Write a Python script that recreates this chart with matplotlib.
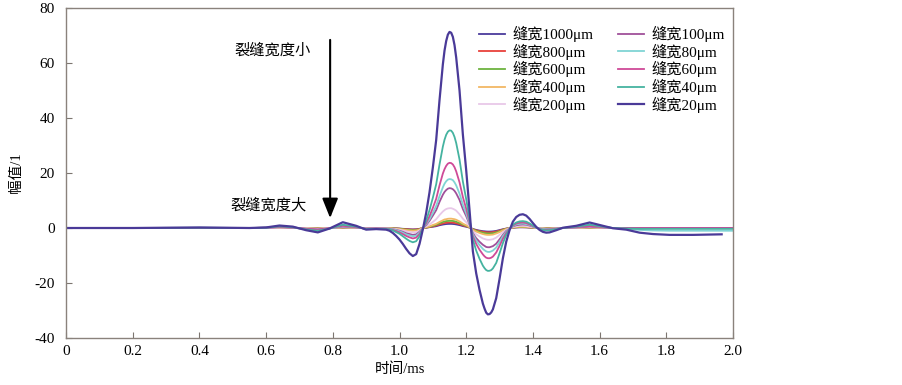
import numpy as np
import matplotlib
import matplotlib.pyplot as plt

matplotlib.use("Agg")

plt.rcParams["font.family"] = ["Liberation Serif", "Noto Sans CJK SC"]
plt.rcParams["axes.unicode_minus"] = False

nan = np.nan

# 时间轴 (ms)：脉冲附近取密一些
t = [0, 0.2, 0.4, 0.55, 0.6, 0.64, 0.68, 0.72, 0.755, 0.79, 0.83, 0.87, 0.9, 0.93, 0.96,
     0.97, 0.98, 0.99, 1.00, 1.01, 1.02, 1.03, 1.04, 1.05, 1.06,
     1.07, 1.08, 1.09, 1.10, 1.11, 1.12, 1.13, 1.135, 1.14, 1.145, 1.15, 1.155, 1.16, 1.165,
     1.17, 1.18, 1.19, 1.20, 1.21,
     1.22, 1.23, 1.24, 1.25, 1.255, 1.26, 1.265, 1.27, 1.275, 1.28, 1.29, 1.30, 1.31, 1.32, 1.33,
     1.34, 1.35, 1.36, 1.37, 1.38, 1.39, 1.40, 1.41, 1.42, 1.43, 1.44, 1.45,
     1.47, 1.49, 1.53, 1.57, 1.61, 1.64, 1.68, 1.72, 1.76, 1.81, 1.88, 1.966, 2.0]

w20 = [0, 0, 0.2, 0, 0.2, 0.9, 0.5, -0.8, -1.6, -0.2, 2.1, 0.8, -0.6, -0.4, -0.6,
       -1.0, -1.8, -2.9, -4.2, -5.8, -7.6, -9.2, -10.2, -9.5, -5.8,
       -0.5, 5.5, 13.0, 22.0, 32.0, 46.5, 59.5, 64.5, 68.0, 70.3, 71.3, 71.0, 69.5, 66.5,
       62.0, 50.0, 34.0, 21.0, 6.5,
       -8.5, -16.5, -22.5, -27.5, -29.3, -30.8, -31.4, -31.3, -30.7, -29.6, -25.5, -18.5, -11.0, -5.0, -0.8,
       2.3, 4.0, 4.8, 5.0, 4.5, 3.3, 1.8, 0.4, -0.7, -1.4, -1.7, -1.6,
       -0.8, 0.1, 0.8, 2.0, 0.8, -0.1, -0.6, -1.7, -2.2, -2.5, -2.5, -2.3, nan]

w40 = [0, 0, 0.1, 0, 0.1, 0.6, 0.3, -0.5, -1.0, -0.2, 1.2, 0.5, -0.4, -0.3, -0.4,
       -0.5, -0.9, -1.5, -2.1, -3.0, -3.9, -4.7, -5.2, -4.8, -3.0,
       -0.2, 2.7, 6.5, 11.0, 15.9, 23.1, 29.6, 32.1, 33.9, 35.0, 35.5, 35.4, 34.6, 33.1,
       30.9, 24.9, 16.9, 10.5, 3.2,
       -4.2, -8.2, -11.2, -13.7, -14.6, -15.3, -15.6, -15.55, -15.3, -14.7, -12.7, -9.2, -5.5, -2.5, -0.4,
       1.2, 2.0, 2.4, 2.5, 2.3, 1.7, 0.9, 0.2, -0.4, -0.7, -0.9, -0.8,
       -0.4, 0.0, 0.5, 1.2, 0.5, 0.0, -0.2, -0.3, -0.3, -0.3, -0.3, -0.3, -0.3]

w60 = [0, 0, 0, 0, 0.1, 0.4, 0.2, -0.3, -0.7, -0.1, 0.8, 0.3, -0.3, -0.2, -0.3,
       -0.4, -0.7, -1.1, -1.6, -2.2, -2.9, -3.4, -3.8, -3.5, -2.2,
       -0.1, 1.8, 4.3, 7.3, 10.6, 15.5, 19.8, 21.4, 22.6, 23.4, 23.7, 23.6, 23.1, 22.1,
       20.6, 16.6, 11.3, 7.0, 2.2,
       -3.0, -5.8, -7.9, -9.6, -10.3, -10.8, -11.0, -11.0, -10.8, -10.4, -8.9, -6.5, -3.9, -1.8, -0.3,
       0.9, 1.6, 1.9, 2.0, 1.8, 1.3, 0.7, 0.2, -0.3, -0.6, -0.7, -0.6,
       -0.3, 0.0, 0.3, 0.7, 0.3, 0.0, -0.1, -0.1, -0.1, -0.1, -0.1, -0.1, -0.1]

w80 = [0, 0, 0, 0, 0.1, 0.5, 0.2, -0.5, -1.0, -0.2, 0.7, 0.3, -0.3, -0.2, -0.3,
       -0.3, -0.5, -0.8, -1.2, -1.7, -2.3, -2.7, -3.0, -2.8, -1.7,
       -0.1, 1.4, 3.2, 5.5, 8.0, 11.6, 14.8, 16.1, 17.0, 17.6, 17.8, 17.7, 17.4, 16.6,
       15.5, 12.5, 8.5, 5.3, 1.6,
       -2.3, -4.6, -6.2, -7.6, -8.1, -8.5, -8.7, -8.7, -8.5, -8.2, -7.1, -5.1, -3.0, -1.4, -0.2,
       0.7, 1.3, 1.5, 1.6, 1.4, 1.1, 0.6, 0.1, -0.2, -0.4, -0.5, -0.5,
       -0.3, 0.0, 0.3, 0.8, 0.3, 0.0, -0.3, -0.7, -0.9, -1.0, -1.0, -1.0, -1.0]

w100 = [0, 0, 0, 0, 0.1, 0.3, 0.1, -0.3, -0.5, -0.1, 0.5, 0.2, -0.2, -0.1, -0.2,
        -0.25, -0.45, -0.7, -1.0, -1.4, -1.9, -2.2, -2.5, -2.3, -1.4,
        -0.1, 1.1, 2.6, 4.5, 6.5, 9.5, 12.1, 13.1, 13.8, 14.3, 14.5, 14.4, 14.1, 13.5,
        12.6, 10.2, 6.9, 4.3, 1.3,
        -1.9, -3.7, -5.0, -6.1, -6.5, -6.9, -7.0, -7.0, -6.8, -6.6, -5.7, -4.1, -2.5, -1.1, -0.2,
        0.6, 1.0, 1.2, 1.3, 1.2, 0.9, 0.5, 0.1, -0.2, -0.4, -0.4, -0.4,
        -0.2, 0, 0.2, 0.5, 0.2, 0, 0, 0, 0, 0, 0, 0, 0]

w200 = [0, 0, 0, 0, 0, 0.1, 0.1, -0.1, -0.3, 0, 0.3, 0.1, -0.1, -0.1, -0.1,
        -0.2, -0.3, -0.45, -0.65, -0.9, -1.2, -1.45, -1.6, -1.5, -0.9,
        0.0, 0.6, 1.3, 2.2, 3.2, 4.7, 6.0, 6.5, 6.9, 7.1, 7.2, 7.2, 7.0, 6.7,
        6.3, 5.0, 3.4, 2.1, 0.7,
        -1.2, -2.3, -3.1, -3.8, -4.0, -4.2, -4.3, -4.3, -4.2, -4.1, -3.5, -2.5, -1.5, -0.7, -0.1,
        0.4, 0.6, 0.8, 0.8, 0.7, 0.5, 0.3, 0.1, -0.1, -0.2, -0.3, -0.3,
        -0.1, 0, 0.1, 0.3, 0.1, 0, 0, 0, 0, 0, 0, 0, 0]

w400 = [0, 0, 0, 0, 0, 0.1, 0, -0.1, -0.2, 0, 0.2, 0.1, -0.1, 0, -0.1,
        -0.1, -0.2, -0.3, -0.4, -0.6, -0.75, -0.9, -1.0, -0.9, -0.6,
        0.0, 0.3, 0.6, 1.1, 1.5, 2.2, 2.8, 3.1, 3.2, 3.35, 3.4, 3.4, 3.3, 3.2,
        3.0, 2.4, 1.6, 1.0, 0.3,
        -0.7, -1.3, -1.8, -2.2, -2.35, -2.45, -2.5, -2.5, -2.45, -2.4, -2.0, -1.5, -0.9, -0.4, -0.1,
        0.2, 0.4, 0.5, 0.5, 0.45, 0.3, 0.2, 0.0, -0.1, -0.1, -0.2, -0.2,
        -0.1, 0, 0.05, 0.15, 0.05, 0, 0, 0, 0, 0, 0, 0, 0]

w600 = [0, 0, 0, 0, 0, 0.1, 0, -0.1, -0.15, 0, 0.15, 0.05, -0.05, 0, -0.05,
        -0.1, -0.15, -0.2, -0.3, -0.45, -0.6, -0.7, -0.8, -0.75, -0.45,
        0.0, 0.2, 0.5, 0.8, 1.2, 1.7, 2.2, 2.35, 2.5, 2.55, 2.6, 2.6, 2.55, 2.45,
        2.25, 1.8, 1.25, 0.8, 0.2,
        -0.5, -1.05, -1.4, -1.75, -1.85, -1.95, -2.0, -2.0, -1.95, -1.9, -1.6, -1.2, -0.7, -0.3, -0.05,
        0.2, 0.3, 0.4, 0.4, 0.35, 0.25, 0.15, 0.0, -0.05, -0.1, -0.15, -0.15,
        -0.1, 0, 0.05, 0.1, 0.05, 0, 0, 0, 0, 0, 0, 0, 0]

w800 = [0, 0, 0, 0, 0, 0.05, 0, -0.05, -0.1, 0, 0.1, 0.05, -0.05, 0, -0.05,
        -0.05, -0.1, -0.15, -0.25, -0.35, -0.45, -0.55, -0.6, -0.55, -0.35,
        0.0, 0.15, 0.35, 0.6, 0.9, 1.3, 1.65, 1.8, 1.9, 1.97, 2.0, 2.0, 1.95, 1.85,
        1.75, 1.4, 0.95, 0.6, 0.2,
        -0.45, -0.85, -1.15, -1.4, -1.5, -1.57, -1.6, -1.6, -1.57, -1.5, -1.3, -0.95, -0.55, -0.25, -0.05,
        0.15, 0.25, 0.3, 0.3, 0.27, 0.2, 0.1, 0.0, -0.05, -0.1, -0.1, -0.1,
        -0.05, 0, 0.05, 0.1, 0.05, 0, 0, 0, 0, 0, 0, 0, 0]

w1000 = [0, 0, 0, 0, 0, 0.05, 0, -0.05, -0.1, 0, 0.1, 0.05, -0.05, 0, -0.05,
         -0.05, -0.1, -0.15, -0.2, -0.3, -0.35, -0.45, -0.5, -0.45, -0.3,
         0.0, 0.1, 0.3, 0.45, 0.65, 1.0, 1.25, 1.35, 1.43, 1.48, 1.5, 1.5, 1.46, 1.4,
         1.3, 1.05, 0.7, 0.45, 0.15,
         -0.35, -0.7, -0.95, -1.15, -1.2, -1.27, -1.3, -1.3, -1.27, -1.22, -1.05, -0.75, -0.45, -0.2, -0.05,
         0.1, 0.2, 0.25, 0.25, 0.22, 0.15, 0.1, 0.0, -0.05, -0.05, -0.1, -0.1,
         -0.05, 0, 0.05, 0.1, 0.05, 0, 0, 0, 0, 0, 0, 0, 0]

labels = ["缝宽1000μm", "缝宽800μm", "缝宽600μm", "缝宽400μm", "缝宽200μm",
          "缝宽100μm", "缝宽80μm", "缝宽60μm", "缝宽40μm", "缝宽20μm"]
colors = ["#4b3c9c", "#e8413c", "#6db33f", "#f2b865", "#e8c8e8",
          "#a0509a", "#80d4d4", "#cf4a97", "#45b3a0", "#4a3a98"]
curves = [w1000, w800, w600, w400, w200, w100, w80, w60, w40, w20]

xticks = [0, 0.2, 0.4, 0.6, 0.8, 1.0, 1.2, 1.4, 1.6, 1.8, 2.0]
xticklabels = ["0", "0.2", "0.4", "0.6", "0.8", "1.0", "1.2", "1.4", "1.6", "1.8", "2.0"]
yticks = [-40, -20, 0, 20, 40, 60, 80]

fig = plt.figure(figsize=(9.03, 3.85), dpi=100)
ax = fig.add_axes([66 / 903, 1 - 338 / 385, 667 / 903, 330 / 385])

for y, c, lab in zip(curves, colors, labels):
    lw = 1.6 if lab == "缝宽20μm" else 1.3
    ax.plot(t, y, color=c, linewidth=lw, label=lab)

ax.set_xlim(0, 2.0)
ax.set_ylim(-40, 80)
ax.set_xticks(xticks)
ax.set_xticklabels(xticklabels)
ax.set_yticks(yticks)
ax.tick_params(direction="in", length=4, width=0.8, colors="#7d7670",
               labelcolor="black", labelsize=11)
ax.tick_params(axis="x", pad=5)
ax.tick_params(axis="y", pad=8)
for sp in ax.spines.values():
    sp.set_color("#8a827c")
    sp.set_linewidth(1.0)

ax.set_xlabel("时间/ms", fontsize=10.5, labelpad=3)
ax.set_ylabel("幅值/1", fontsize=10.5, labelpad=8)

# 箭头：裂缝宽度由小到大
ax.annotate("", xy=(0.792, 3.6), xytext=(0.792, 68.4),
            arrowprops=dict(arrowstyle="-|>,head_width=0.4,head_length=1.0",
                            lw=1.5, color="black", mutation_scale=12,
                            shrinkA=0, shrinkB=0))
ax.text(0.618, 64.7, "裂缝宽度小", fontsize=11, ha="center", va="center")
ax.text(0.606, 8.4, "裂缝宽度大", fontsize=11, ha="center", va="center")

ax.legend(ncol=2, loc="upper left", bbox_to_anchor=(479 / 903, 1 - 26 / 385),
          bbox_transform=fig.transFigure, frameon=False, fontsize=11,
          handlelength=1.7, handletextpad=0.5, columnspacing=1.6,
          labelspacing=0.1, borderpad=0, borderaxespad=0)

fig.savefig("out.png", dpi=100)
plt.close(fig)
